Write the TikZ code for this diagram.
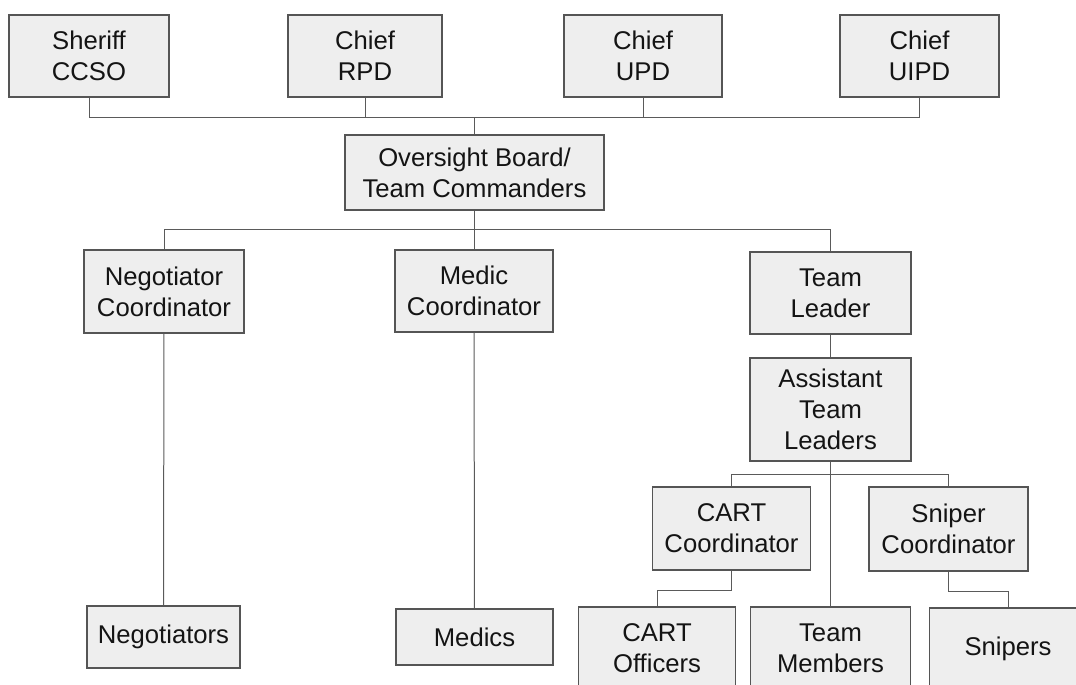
\documentclass[tikz,border=0pt]{standalone}
\usepackage{fontspec}
\setmainfont{Liberation Sans}
\usetikzlibrary{positioning}
\definecolor{boxfill}{HTML}{EEEEEE}
\definecolor{boxline}{HTML}{555555}
\definecolor{linkline}{HTML}{5A5A5A}
\definecolor{txt}{HTML}{141414}

\begin{document}
\begin{tikzpicture}[x=0.02cm,y=-0.02cm]

		  \tikzset{
			unit/.style args={#1/#2}{draw=boxline,fill=boxfill,line width=0.26mm,
			  minimum width=#1*0.02cm,minimum height=#2*0.02cm,inner sep=0pt,
			  align=center,text=txt,font=\fontsize{14.6}{17.6}\selectfont},
			link/.style={draw=linkline,line width=0.2mm},
		  }
		  %FRAME
		  \useasboundingbox (0,0) rectangle (1076,684);
		  \clip (0,0) rectangle (1076,684);
		  %CHIEFS
		  \node[unit={160/82}] (sheriff) at (89,56) {Sheriff\\CCSO};
		  \node[unit={154/82}] (rpd) at (365,56) {Chief\\RPD};
		  \node[unit={158/82}] (upd) at (643,56) {Chief\\UPD};
		  \node[unit={159/82}] (uipd) at (919.5,56) {Chief\\UIPD};
		  %BOARD
		  \node[unit={259/75}] (board) at (474.5,172.5) {Oversight Board/\\Team Commanders};
		  %COORDINATORS
		  \node[unit={160/83}] (negc) at (164,291.5) {Negotiator\\Coordinator};
		  \node[unit={158/82}] (medc) at (474,291) {Medic\\Coordinator};
		  \node[unit={161/82}] (tl) at (830.5,293) {Team\\Leader};
		  \node[unit={161/103}] (atl) at (830.5,409.5) {Assistant\\Team\\Leaders};
		  \node[unit={158/83}] (cartc) at (731.5,528.5) {CART\\Coordinator};
		  \node[unit={159/84}] (snipc) at (948.5,529) {Sniper\\Coordinator};
		  %UNITS
		  \node[unit={153/62}] (negs) at (163.5,637) {Negotiators};
		  \node[unit={157/56}] (medics) at (474.5,637) {Medics};
		  \node[unit={157/82}] (officers) at (657,648) {CART\\Officers};
		  \node[unit={160/82}] (members) at (830.5,648) {Team\\Members};
		  \node[unit={157/82}] (snipers) at (1008,649) {Snipers};
		  %BUS LINES
		  \coordinate (topbus) at (474.5,117);
		  \coordinate (midbus) at (474.5,229);
		  \coordinate (lowbus) at (830.5,474);
		  \draw[link] (sheriff.south |- topbus) -- (uipd.south |- topbus);
		  \foreach \n in {sheriff,rpd,upd,uipd}{
			\draw[link] (\n.south) -- (\n.south |- topbus);
		  }
		  \draw[link] (topbus) -- (board.north);
		  \draw[link] (board.south) -- (midbus);
		  \draw[link] (negc.north |- midbus) -- (tl.north |- midbus);
		  \foreach \n in {negc,medc,tl}{
			\draw[link] (\n.north |- midbus) -- (\n.north);
		  }
		  \draw[link] (negc) -- (negs);
		  \draw[link] (medc) -- (medics);
		  \draw[link] (tl) -- (atl);
		  \draw[link] (atl) -- (members);
		  \draw[link] (cartc.north |- lowbus) -- (snipc.north |- lowbus);
		  \foreach \n in {cartc,snipc}{
			\draw[link] (\n.north |- lowbus) -- (\n.north);
		  }
		  \draw[link] (cartc.south) -- ++(0,20) -| (officers.north);
		  \draw[link] (snipc.south) -- ++(0,20) -| (snipers.north);
\end{tikzpicture}
\end{document}
